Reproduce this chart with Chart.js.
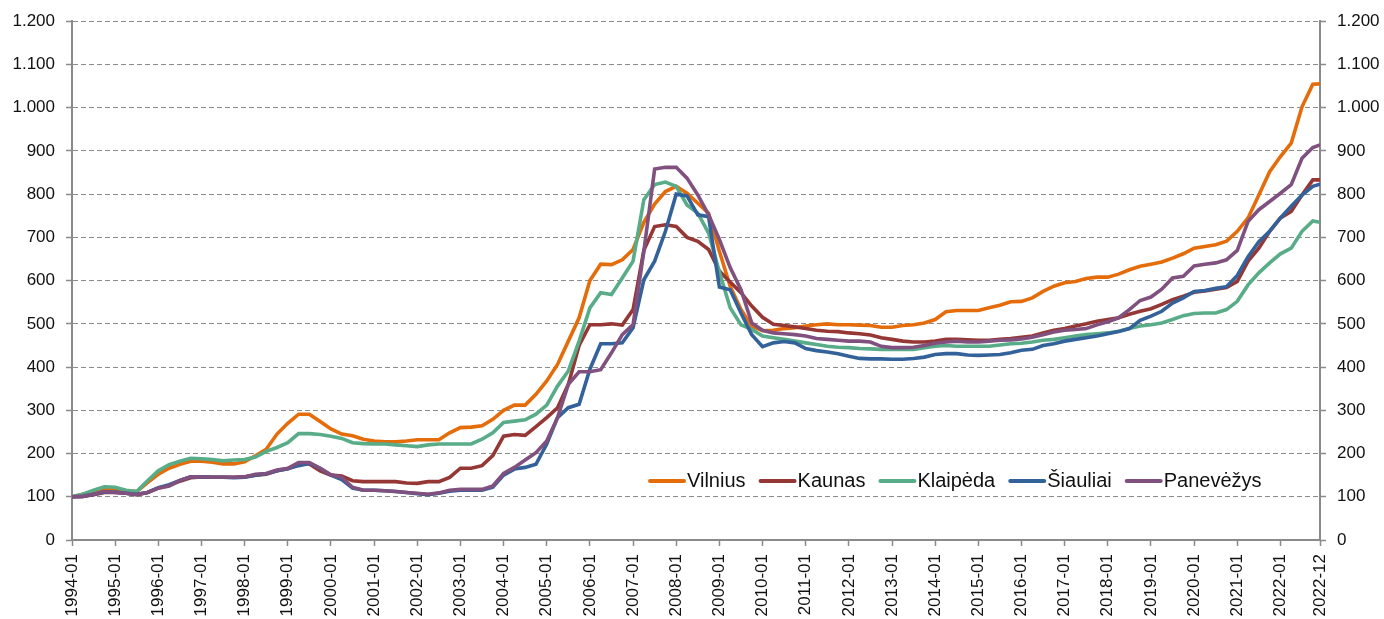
<!DOCTYPE html>
<html>
<head>
<meta charset="utf-8">
<script src="https://cdn.jsdelivr.net/npm/chart.js@4.4.1/dist/chart.umd.min.js"></script>
<style>
  html, body { margin: 0; padding: 0; background: #ffffff; }
  #wrap { width: 1384px; height: 619px; position: relative; }
</style>
</head>
<body>
<div id="wrap"><canvas id="c" width="1384" height="619"></canvas></div>
<script>
// ---------- DATA ----------
// Sample months: quarterly (Jan, Apr, Jul, Oct) from 1994-01, plus final month 2022-12
const sampleMonths = [];
for (let y = 1994; y <= 2022; y++) {
  ['01', '04', '07', '10'].forEach(m => sampleMonths.push(y + '-' + m));
}
sampleMonths.push('2022-12');

const tickLabels = [
  '1994-01','1995-01','1996-01','1997-01','1998-01','1999-01','2000-01','2001-01',
  '2002-01','2003-01','2004-01','2005-01','2006-01','2007-01','2008-01','2009-01',
  '2010-01','2011-01','2012-01','2013-01','2014-01','2015-01','2016-01','2017-01',
  '2018-01','2019-01','2020-01','2021-01','2022-01','2022-12'
];

const seriesNames = ['Vilnius', 'Kaunas', 'Klaipėda', 'Šiauliai', 'Panevėžys'];

const vilnius = [
  100,106,112,118, 118,114,112,133, 152,166,175,182, 182,180,176,176,
  181,195,210,245, 270,291,291,274, 257,245,241,233, 229,227,227,229,
  232,232,232,248, 260,261,264,279, 300,312,312,337, 368,406,460,514,
  600,638,637,648, 672,735,777,806, 818,802,779,756, 668,587,533,495,
  484,485,489,491, 495,498,500,498, 498,497,496,492, 492,496,498,502,
  510,528,531,531, 531,537,543,551, 552,560,575,587, 595,598,605,608,
  608,615,625,633, 638,643,652,662, 675,679,683,691, 714,745,798,852,
  887,918,1002,1054, 1055
];
const kaunas = [
  100,101,105,110, 110,108,105,110, 120,126,136,144, 146,145,145,145,
  146,150,152,160, 165,176,176,160, 150,148,137,135, 135,135,135,132,
  131,135,135,145, 166,166,172,195, 240,244,242,262, 283,306,360,450,
  498,498,500,497, 533,670,725,729, 725,700,691,672, 622,597,572,541,
  515,499,496,493, 489,485,483,482, 479,477,474,468, 464,460,458,458,
  460,464,464,463, 462,462,464,466, 469,472,479,485, 489,495,500,506,
  510,514,522,529, 535,545,556,564, 573,576,580,584, 598,645,675,714,
  745,760,798,833, 833
];
const klaipeda = [
  100,106,115,123, 122,115,112,137, 160,174,182,189, 188,186,183,185,
  186,192,205,214, 225,246,246,244, 240,235,225,223, 222,222,220,218,
  216,220,222,222, 222,222,233,248, 272,275,278,291, 312,356,391,460,
  537,572,568,606, 645,787,822,828, 818,775,756,710, 620,537,498,487,
  472,468,464,460, 456,452,448,446, 445,443,442,441, 441,441,441,445,
  448,450,448,448, 448,448,451,454, 455,458,462,464, 468,472,475,477,
  479,483,489,495, 498,502,510,519, 524,525,525,533, 552,590,618,641,
  662,675,714,738, 735
];
const siauliai = [
  100,101,106,111, 111,108,106,110, 121,128,138,146, 146,145,145,144,
  145,150,153,160, 165,172,177,166, 150,140,120,115, 115,114,112,110,
  107,105,108,113, 115,115,115,122, 150,164,168,175, 222,283,306,314,
  395,454,454,456, 491,602,645,714, 800,796,752,748, 585,579,525,475,
  447,456,459,456, 443,438,435,431, 425,420,419,419, 418,418,420,423,
  429,431,431,428, 427,428,429,433, 439,441,450,454, 460,464,468,472,
  477,482,489,508, 518,529,548,560, 575,577,582,586, 612,655,690,714,
  745,772,798,818, 823
];
const panevezys = [
  100,101,106,112, 110,108,105,110, 120,125,138,146, 146,145,145,145,
  146,152,154,162, 166,179,179,166, 151,145,122,115, 115,114,112,110,
  108,106,109,115, 117,117,117,125, 154,168,185,202, 229,283,360,389,
  389,394,433,475, 498,668,858,862, 862,837,798,752, 695,630,579,502,
  485,479,477,475, 472,466,464,462, 460,460,458,448, 445,445,446,450,
  455,458,460,458, 458,460,462,463, 465,469,475,481, 485,487,489,498,
  505,514,533,554, 562,580,606,610, 634,638,641,648, 670,737,764,783,
  802,822,883,908, 914
];

const seriesValues = [vilnius, kaunas, klaipeda, siauliai, panevezys];
const seriesColors = ['#E46C0A', '#953735', '#58AC88', '#33619A', '#80507F'];

// ---------- HELPERS ----------
function monthIndex(s) {
  const [y, m] = s.split('-').map(Number);
  return (y - 1994) * 12 + (m - 1);
}
function labelFor(idx) {
  const y = 1994 + Math.floor(idx / 12);
  const m = (idx % 12) + 1;
  return y + '-' + (m < 10 ? '0' + m : m);
}
function fmtThousands(v) {
  if (v >= 1000) {
    const r = String(v % 1000).padStart(3, '0');
    return Math.floor(v / 1000) + '.' + r;
  }
  return String(v);
}

const FONT_FAMILY = "'Liberation Sans', Arial, sans-serif";
const AXIS_GRAY = '#8a8a8a';

const datasets = seriesNames.map((name, k) => ({
  label: name,
  data: sampleMonths.map((mo, i) => ({ x: monthIndex(mo), y: seriesValues[k][i] })),
  borderColor: seriesColors[k],
  backgroundColor: seriesColors[k],
  borderWidth: 3.6,
  pointRadius: 0,
  tension: 0,
  fill: false,
  order: seriesNames.length - k
}));

const tickPositions = tickLabels.map(monthIndex);

const insideLegend = {
  id: 'insideLegend',
  afterDatasetsDraw(chart) {
    const ctx = chart.ctx;
    ctx.save();
    ctx.font = '20px ' + FONT_FAMILY;
    ctx.textBaseline = 'middle';
    ctx.textAlign = 'left';
    let x = 648;
    const y = 481;
    chart.data.datasets.forEach(ds => {
      ctx.strokeStyle = ds.borderColor;
      ctx.lineWidth = 4;
      ctx.lineCap = 'round';
      ctx.beginPath();
      ctx.moveTo(x + 2, y);
      ctx.lineTo(x + 36, y);
      ctx.stroke();
      x += 39;
      ctx.fillStyle = '#111';
      ctx.fillText(ds.label, x, y);
      x += ctx.measureText(ds.label).width + 13;
    });
    ctx.restore();
  }
};

const yCommon = {
  type: 'linear',
  min: 0,
  max: 1200,
  ticks: {
    stepSize: 100,
    color: '#111',
    font: { family: FONT_FAMILY, size: 17 },
    padding: 11,
    callback: v => fmtThousands(v)
  }
};

new Chart(document.getElementById('c'), {
  type: 'line',
  data: { datasets },
  options: {
    responsive: false,
    animation: false,
    events: [],
    layout: { padding: { top: 20, left: 0, right: 0, bottom: 0 } },
    plugins: { legend: { display: false }, tooltip: { enabled: false } },
    scales: {
      x: {
        type: 'linear',
        min: 0,
        max: monthIndex('2022-12'),
        afterBuildTicks: s => { s.ticks = tickPositions.map(v => ({ value: v })); },
        afterFit: s => { s.height = 79; },
        ticks: {
          autoSkip: false,
          minRotation: 90,
          maxRotation: 90,
          color: '#111',
          padding: 8,
          font: { family: FONT_FAMILY, size: 17 },
          callback: v => labelFor(v)
        },
        grid: { drawOnChartArea: false, drawTicks: true, tickLength: 6, color: AXIS_GRAY, tickWidth: 1.5 },
        border: { display: true, color: AXIS_GRAY, width: 2 }
      },
      y: Object.assign({}, yCommon, {
        position: 'left',
        afterFit: s => { s.width = 72; },
        grid: { drawOnChartArea: true, drawTicks: true, tickLength: 6, color: '#8c8c8c', lineWidth: 1, tickColor: AXIS_GRAY, tickWidth: 1.5, tickBorderDash: [] },
        border: { display: true, color: AXIS_GRAY, width: 2, dash: [5, 3] }
      }),
      y2: Object.assign({}, yCommon, {
        position: 'right',
        afterFit: s => { s.width = 64; },
        grid: { drawOnChartArea: false, drawTicks: true, tickLength: 6, color: AXIS_GRAY, tickWidth: 1.5 },
        border: { display: true, color: AXIS_GRAY, width: 2 }
      })
    }
  },
  plugins: [insideLegend]
});
</script>
</body>
</html>
